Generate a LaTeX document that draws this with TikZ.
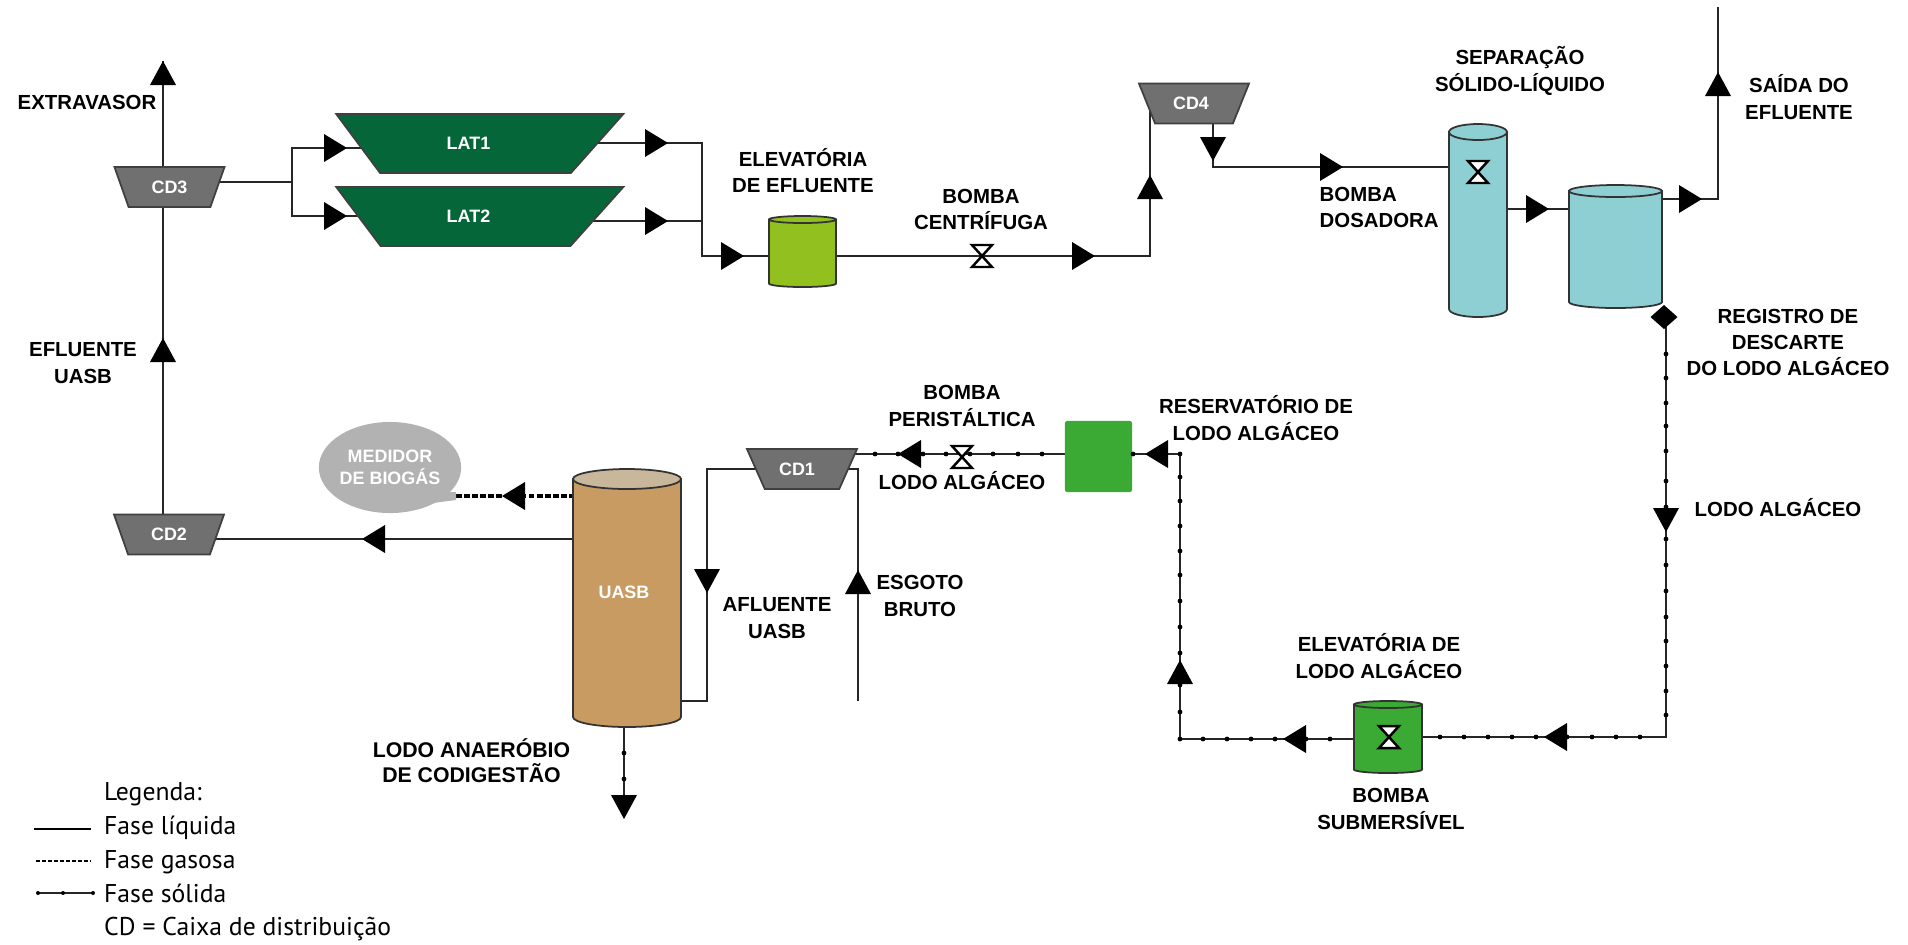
\documentclass[tikz,border=0pt]{standalone}
\usepackage{fontspec}
\setmainfont{Liberation Sans}
\newfontfamily\legfont{PT Sans}
\usetikzlibrary{shapes.geometric,backgrounds}
\definecolor{cdgray}{RGB}{112,112,112}
\definecolor{latgreen}{RGB}{5,102,58}
\definecolor{limegreen}{RGB}{146,192,31}
\definecolor{pumpgreen}{RGB}{58,170,53}
\definecolor{tealtank}{RGB}{142,207,212}
\definecolor{uasbtan}{RGB}{200,155,99}
\definecolor{uasbtop}{RGB}{201,183,156}
\definecolor{biogray}{RGB}{178,178,178}
\begin{document}
\begin{tikzpicture}[x=0.01cm, y=-0.01cm,
    CD/.style={trapezium, shape border rotate=180, trapezium stretches=true,
               trapezium left angle=64, trapezium right angle=64,
               draw=black!75, fill=cdgray, line width=0.5pt, inner sep=0pt,
               minimum width=1.10cm, minimum height=0.40cm,
               text=white, font=\bfseries\fontsize{5.1}{6}\selectfont},
    LAT/.style={CD, trapezium left angle=56.7, trapezium right angle=61.2,
               fill=latgreen, minimum width=2.87cm, minimum height=0.59cm},
    tank/.style={draw=black!80, line width=0.5pt},
    port/.style={inner sep=0pt, outer sep=0pt},
    liq/.style={draw=black!85, line width=0.5pt},
    gas/.style={draw=black, line width=1pt, dash pattern=on 1.6pt off 0.7pt},
    sol/.style={draw=black!85, line width=0.5pt},
    dotpt/.style={fill=black},
    tip/.style={fill=black},
    valve/.style={draw=black, fill=white, line width=0.7pt, line join=miter},
    lab/.style={font=\bfseries\fontsize{5.8}{7.5}\selectfont, align=center, inner sep=0pt},
    leg/.style={font=\legfont\fontsize{7.3}{9}\selectfont, anchor=base west, inner sep=0pt}]
  \useasboundingbox (0,0) rectangle (1908,944);

  \node[CD] (CD1) at (802,469) {\hspace*{-0.1cm}CD1};
  \node[CD] (CD2) at (169,534.5) {CD2};
  \node[CD] (CD3) at (169.5,187) {CD3};
  \node[CD] (CD4) at (1194,103.5) {\hspace*{-0.06cm}CD4};
  \node[LAT] (LAT1) at (475.5,143.5) {\hspace*{-0.14cm}LAT1};
  \node[LAT] (LAT2) at (475.5,216.5) {\hspace*{-0.14cm}LAT2};

  \foreach \n/\x/\y/\w/\h/\ry/\cb/\ct in {
      ELEV/802.5/251.5/67/71/3.5/limegreen/limegreen,
      SEP/1478/220.5/58/193/8/tealtank/tealtank,
      SAI/1615.5/246.5/93/123/6/tealtank/tealtank,
      SUB/1388/737/68/72/3.5/pumpgreen/pumpgreen,
      UASB/627/598/108/258/10/uasbtan/uasbtop} {
    \draw[tank, fill=\cb] (\x-\w/2,\y-\h/2+\ry) -- (\x-\w/2,\y+\h/2-\ry)
        arc[start angle=180, end angle=0, x radius=\w/2, y radius=\ry]
        -- (\x+\w/2,\y-\h/2+\ry) -- cycle;
    \draw[tank, fill=\ct] (\x,\y-\h/2+\ry) ellipse[x radius=\w/2, y radius=\ry];
    \node[port, minimum width=\w*0.01cm, minimum height=\h*0.01cm] (\n) at (\x,\y) {};
  }
  \node[text=white, font=\bfseries\fontsize{5.1}{6}\selectfont, inner sep=0pt] (lUASB) at (624,592) {UASB};
  \node[fill=pumpgreen, rounded corners=0.6pt, minimum width=0.67cm, minimum height=0.71cm,
        inner sep=0pt] (RES) at (1098.5,456.5) {};
  \node[ellipse, fill=biogray, minimum width=1.34cm, minimum height=0.91cm, inner sep=0pt,
        text=white, align=center, font=\bfseries\fontsize{5.1}{6.2}\selectfont]
        (BIO) at (390,467.5) {MEDIDOR\\DE BIOGÁS};
  \fill[biogray] (420,492) -- (456,492) -- (456,500) -- (425,504) -- cycle;

  \coordinate (jTop) at (163,61);
  \coordinate (jLat) at (292,182);
  \coordinate (jLatA) at (292,148);
  \coordinate (jLatB) at (292,216);
  \coordinate (jOutA) at (702,143);
  \coordinate (jOutB) at (702,221);
  \coordinate (jElev) at (702,256);
  \coordinate (jCD4) at (1150,256);
  \coordinate (jDos) at (1213,167);
  \coordinate (jSaiA) at (1718,199);
  \coordinate (jSaiB) at (1718,7);
  \coordinate (jDisc) at (1666,317);
  \coordinate (jDiscB) at (1666,737);
  \coordinate (jRet) at (1180,739);
  \coordinate (jResv) at (1180,454);
  \coordinate (jGas) at (456,496);
  \coordinate (jUin) at (707,469);
  \coordinate (jUout) at (707,701);
  \coordinate (jEsgA) at (858,469);
  \coordinate (jEsgB) at (858,701);
  \coordinate (jSolo) at (624,795);

  \begin{scope}[on background layer]
    \draw[liq] (CD2 -| jTop) -- (CD3 -| jTop);
    \draw[liq] (CD3 -| jTop) -- (jTop);
    \draw[liq] (UASB |- 0,539) -- (CD2 |- 0,539);
    \draw[liq] (CD3 |- jLat) -- (jLat);
    \draw[liq] (LAT1 |- jLatA) -- (jLatA) -- (jLatB) -- (LAT2 |- jLatB);
    \draw[liq] (LAT1 |- jOutA) -- (jOutA) -- (jElev) -- (ELEV |- jElev);
    \draw[liq] (LAT2 |- jOutB) -- (jOutB);
    \draw[liq] (ELEV |- jCD4) -- (jCD4) -- (CD4 -| jCD4);
    \draw[liq] (CD4 -| jDos) -- (jDos) -- (SEP |- jDos);
    \draw[liq] (SEP |- 0,209) -- (SAI |- 0,209);
    \draw[liq] (SAI |- jSaiA) -- (jSaiA) -- (jSaiB);
    \draw[liq] (CD1 |- jUin) -- (jUin) -- (jUout) -- (UASB |- jUout);
    \draw[liq] (CD1 |- jEsgA) -- (jEsgA) -- (jEsgB);
    \draw[gas] (jGas) -- (UASB |- jGas);
    \draw[sol] (jDisc) -- (jDiscB) -- (SUB |- jDiscB);
    \draw[sol] (SUB |- jRet) -- (jRet) -- (jResv) -- (RES |- jResv);
    \draw[sol] (RES |- 0,454) -- (CD1 |- 0,454);
    \draw[sol] (UASB |- jSolo) ++(-3,-80) -- (jSolo);
  \end{scope}

  \foreach \y in {354,378,403,426,451,481,507,539,565,591,617,641,666,691,715}
    \fill[dotpt] (1666,\y) circle (2.4);
  \foreach \x in {1440,1464,1488,1512,1536,1567,1592,1616,1640}
    \fill[dotpt] (\x,737) circle (2.4);
  \foreach \x in {1180,1203,1227,1251,1275,1306,1330}
    \fill[dotpt] (\x,739) circle (2.4);
  \foreach \y in {477,501,526,551,575,601,627,653,685,712}
    \fill[dotpt] (1180,\y) circle (2.4);
  \foreach \x in {875,898,923,946,970,993,1018,1042,1133,1180}
    \fill[dotpt] (\x,454) circle (2.4);
  \foreach \y in {753,779}
    \fill[dotpt] (624,\y) circle (2.4);

  \foreach \x/\y in {347/148,347/216,668/143,668/221,744/256,1095/256,1343/167,1549/209,1702/199}
    \fill[tip] (\x,\y) -- ++(-23,-14) -- ++(0,28) -- cycle;
  \foreach \x/\y in {362/539,502/496,898/454,1145/454,1283/739,1544/737}
    \fill[tip] (\x,\y) -- ++(23,-14) -- ++(0,28) -- cycle;
  \foreach \x/\y in {163/61,163/338,1150/175,1718/72,858/570,1180/660}
    \fill[tip] (\x,\y) -- ++(-13,24) -- ++(26,0) -- cycle;
  \foreach \x/\y in {1213/161,707/593,1666/532,624/819}
    \fill[tip] (\x,\y) -- ++(-13,-24) -- ++(26,0) -- cycle;
  \fill[tip] (1664,305) -- (1677.5,317) -- (1664,329) -- (1650.5,317) -- cycle;

  \foreach \x/\y in {982/256,1478/172,962/457,1389/737}
    \draw[valve] (\x-10,\y-11) -- (\x+10,\y-11) -- (\x-10,\y+11) -- (\x+10,\y+11) -- cycle;

  \node[lab] (lExtra) at (87,102) {EXTRAVASOR};
  \node[lab] (lEfl) at (83,363) {EFLUENTE\\UASB};
  \node[lab] (lElev) at (803,170.5) {ELEVATÓRIA\\DE EFLUENTE};
  \node[lab] (lCent) at (981,209.5) {BOMBA\\CENTRÍFUGA};
  \node[lab, anchor=west, align=left] (lDos) at (1319,207.5) {BOMBA\\DOSADORA};
  \node[lab] (lSep) at (1520,71) {SEPARAÇÃO\\SÓLIDO-LÍQUIDO};
  \node[lab] (lSai) at (1799,97) {SAÍDA DO\\EFLUENTE};
  \node[lab] (lReg) at (1788,342.5) {REGISTRO DE\\DESCARTE\\DO LODO ALGÁCEO};
  \node[lab] (lLodo) at (1778,508) {LODO ALGÁCEO};
  \node[lab] (lRes) at (1256,418) {RESERVATÓRIO DE\\LODO ALGÁCEO};
  \node[lab] (lPer) at (962,406) {BOMBA\\PERISTÁLTICA};
  \node[lab] (lLodoB) at (962,481) {LODO ALGÁCEO};
  \node[lab] (lAfl) at (777,618) {AFLUENTE\\UASB};
  \node[lab] (lEsg) at (920,596) {ESGOTO\\BRUTO};
  \node[lab] (lElevB) at (1379,656) {ELEVATÓRIA DE\\LODO ALGÁCEO};
  \node[lab] (lSub) at (1391,809) {BOMBA\\SUBMERSÍVEL};
  \node[lab, font=\bfseries\fontsize{6.05}{7.3}\selectfont] (lAna) at (471.5,760.5)
    {LODO ANAERÓBIO\\DE CODIGESTÃO};

  \node[leg] (tLeg) at (103.5,800) {Legenda:};
  \node[leg] (tLiq) at (103.5,834) {Fase líquida};
  \node[leg] (tGas) at (103.5,868) {Fase gasosa};
  \node[leg] (tSol) at (103.5,902) {Fase sólida};
  \node[leg] (tCD) at (103.5,935) {CD = Caixa de distribuição};
  \coordinate (kLiq) at (34,829);
  \coordinate (kGas) at (36,861);
  \coordinate (kSol) at (38,893);
  \draw[liq, draw=black] (kLiq) -- (91,829);
  \draw[gas, line width=0.5pt, dash pattern=on 1.2pt off 0.5pt] (kGas) -- (90,861);
  \draw[sol] (kSol) -- (93,893);
  \foreach \x in {38,63,93}
    \fill[dotpt] (\x,893) circle (2);
\end{tikzpicture}
\end{document}
